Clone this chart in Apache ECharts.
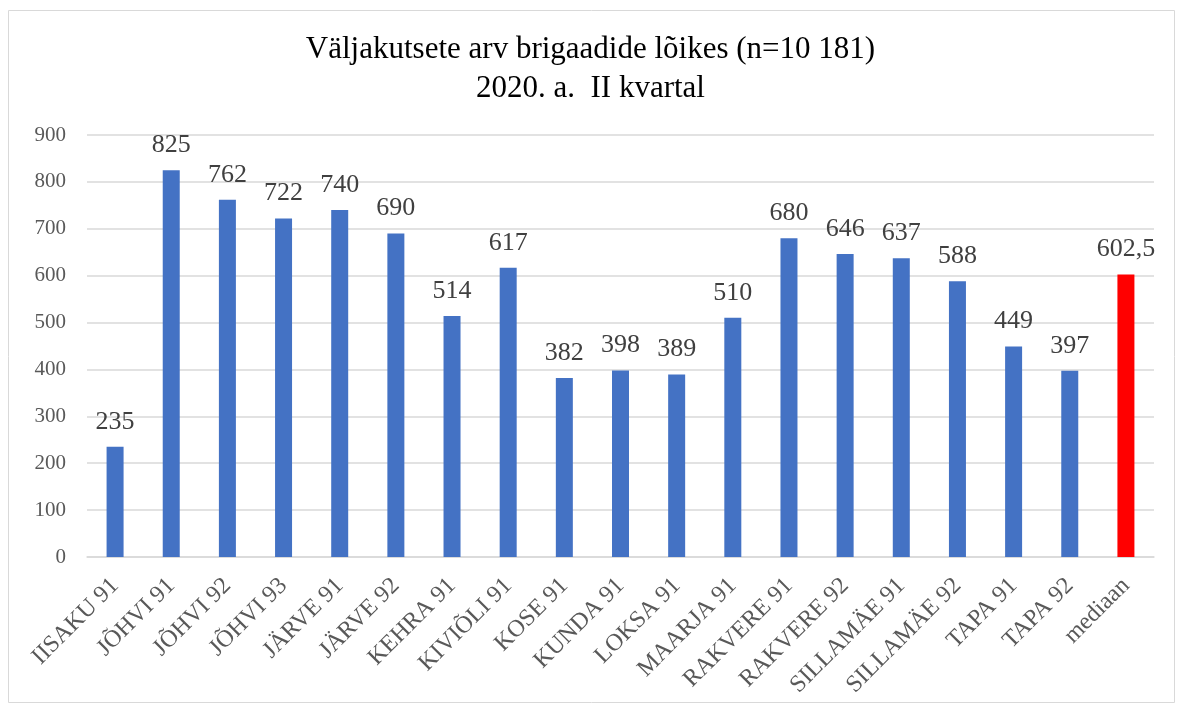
<!DOCTYPE html>
<html><head><meta charset="utf-8">
<script src="https://cdn.jsdelivr.net/npm/echarts@6/dist/echarts.min.js"></script>
<style>html,body{margin:0;padding:0;background:#fff}#c{width:1181px;height:710px}</style>
</head><body><div id="c"></div>
<script>
const categories = ["IISAKU 91","JÕHVI 91","JÕHVI 92","JÕHVI 93","JÄRVE 91","JÄRVE 92","KEHRA 91","KIVIÕLI 91","KOSE 91","KUNDA 91","LOKSA 91","MAARJA 91","RAKVERE 91","RAKVERE 92","SILLAMÄE 91","SILLAMÄE 92","TAPA 91","TAPA 92","mediaan"];
const values = [235,825,762,722,740,690,514,617,382,398,389,510,680,646,637,588,449,397,602.5];
const yTicks = [0,100,200,300,400,500,600,700,800,900];
const serif = '"Liberation Serif","Times New Roman",serif';
const chart = echarts.init(document.getElementById('c'));
chart.setOption({
  animation:false,
  graphic:[{type:'rect',shape:{x:8.5,y:10.5,width:1166,height:692},style:{fill:'none',stroke:'#d9d9d9',lineWidth:1}}],
  title:{text:'Väljakutsete arv brigaadide lõikes (n=10 181)\n2020. a.  II kvartal',left:'center',top:25,
    textStyle:{fontFamily:serif,fontSize:31,fontWeight:'normal',color:'#000',lineHeight:39}},
  grid:{left:87,right:27,top:135,bottom:153},
  xAxis:{type:'category',data:categories,
    axisLine:{lineStyle:{color:'#d9d9d9',width:1.5}},axisTick:{show:false},
    axisLabel:{rotate:45,interval:0,fontFamily:serif,fontSize:24,color:'#595959',margin:25}},
  yAxis:{type:'value',min:0,max:900,interval:100,
    axisLine:{show:false},axisTick:{show:false},
    splitLine:{lineStyle:{color:'#d9d9d9',width:1.5}},
    axisLabel:{fontFamily:serif,fontSize:21,color:'#595959',margin:21,
      formatter:v=>yTicks.includes(v)?String(v):''}},
  series:[{type:'bar',barWidth:17,
    data:values.map((v,i)=>({value:v,itemStyle:{color:i===values.length-1?'#ff0000':'#4472c4'}})),
    label:{show:true,position:'top',distance:12,fontFamily:serif,fontSize:26,color:'#404040',
      formatter:p=>String(p.value).replace('.',',')}}]
});
</script></body></html>
